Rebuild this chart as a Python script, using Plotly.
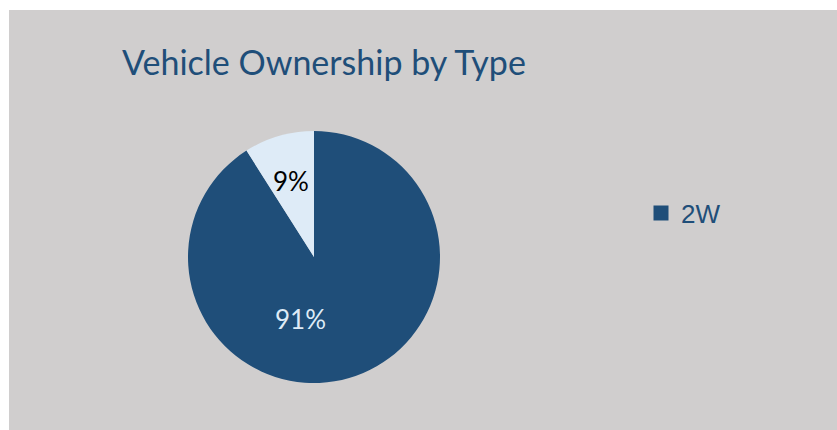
import plotly.graph_objects as go

# Data
categories = ["2W", "4W"]
values = [91, 9]
slice_colors = ["#1F4E79", "#DEEBF7"]
text_colors = ["#DEEBF7", "#000000"]
legend_items = ["2W"]

W, H = 837, 430
BG = "#D0CECE"
TITLE_COLOR = "#1F4E79"

total = sum(values)
pct_text = [f"{round(v / total * 100)}%" for v in values]
# label anchor points (pixels) as placed in the reference
label_pos = [(300, 319), (291, 181)]

fig = go.Figure()

fig.add_trace(go.Pie(
    labels=categories,
    values=values,
    sort=False,
    direction="clockwise",
    rotation=0,
    marker=dict(colors=slice_colors, line=dict(width=0)),
    textinfo="none",
    showlegend=False,
    hoverinfo="label+percent",
    domain=dict(x=[188 / W, 440 / W], y=[1 - 383 / H, 1 - 131 / H]),
))

# Legend entry (only 2W shown, as in the reference)
fig.add_trace(go.Scatter(
    x=[None], y=[None],
    mode="markers",
    name=legend_items[0],
    marker=dict(symbol="square", size=15, color=slice_colors[0]),
    showlegend=True,
))

annotations = [
    dict(text=t, x=px / W, y=1 - py / H, xref="paper", yref="paper",
         xanchor="center", yanchor="middle", showarrow=False,
         font=dict(family="Lato", size=26, color=c))
    for t, (px, py), c in zip(pct_text, label_pos, text_colors)
]

fig.update_layout(
    width=W, height=H,
    margin=dict(l=0, r=0, t=0, b=0),
    paper_bgcolor=BG,
    plot_bgcolor=BG,
    title=dict(
        text="Vehicle Ownership by Type",
        x=122 / W, xanchor="left",
        y=1 - 63 / H, yanchor="middle",
        font=dict(family="Lato", size=34, color=TITLE_COLOR),
    ),
    xaxis=dict(visible=False),
    yaxis=dict(visible=False),
    legend=dict(
        x=641 / W, xanchor="left",
        y=1 - 213 / H, yanchor="middle",
        bgcolor="rgba(0,0,0,0)",
        font=dict(family="Liberation Sans", size=26, color=TITLE_COLOR),
    ),
    annotations=annotations,
    shapes=[
        dict(type="rect", xref="paper", yref="paper",
             x0=0, x1=9 / W, y0=0, y1=1,
             fillcolor="white", line=dict(width=0), layer="above"),
        dict(type="rect", xref="paper", yref="paper",
             x0=0, x1=1, y0=1 - 10 / H, y1=1,
             fillcolor="white", line=dict(width=0), layer="above"),
    ],
)

fig.write_html("out.html")
